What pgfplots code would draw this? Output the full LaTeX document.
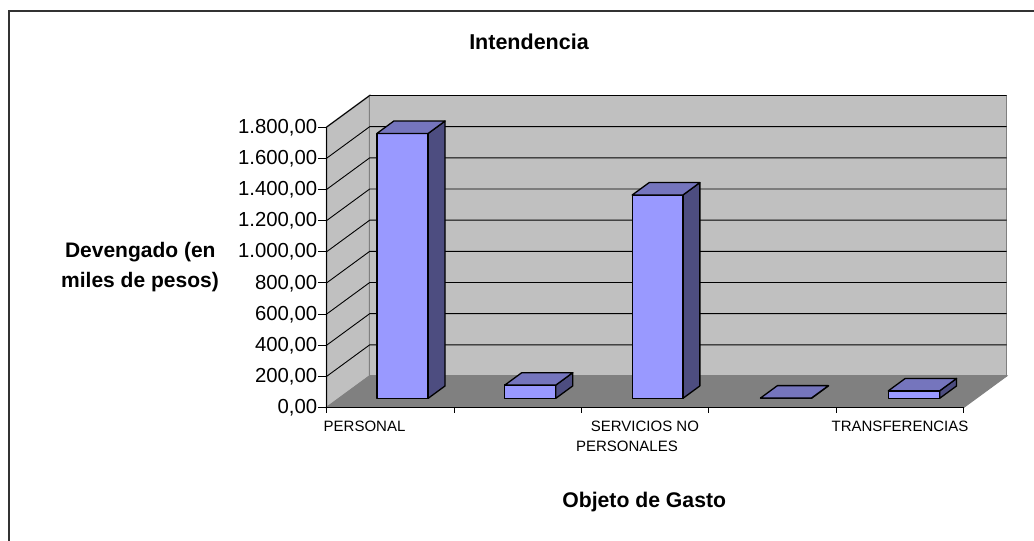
\documentclass[border=0pt]{standalone}
\usepackage{fontspec}
\setmainfont{Liberation Sans}
\usepackage{pgfplots}
\pgfplotsset{compat=1.18}
\definecolor{wall}{HTML}{C0C0C0}
\definecolor{floorc}{HTML}{808080}
\definecolor{barfront}{HTML}{9999FF}
\definecolor{bartop}{HTML}{7575BD}
\definecolor{barside}{HTML}{4D4D80}
\newcommand{\gridl}[1]{\addplot3[black,line width=0.9pt] coordinates {(0,0,#1) (0,1,#1) (5,1,#1)};}
\newcommand{\ztk}[1]{\addplot3[black,line width=0.9pt] coordinates {(-0.068,0,#1) (0,0,#1)};}
\newcommand{\xtk}[1]{\addplot3[black,line width=0.9pt] coordinates {(#1,0,-34) (#1,0,0)};}
% bar: left x, right x, value
\newcommand{\barx}[3]{%
 \addplot3[fill=barside,draw=black,line width=1.3pt,line join=round] coordinates {(#2,0.29,0) (#2,0.685,0) (#2,0.685,#3) (#2,0.29,#3)} --cycle;
 \addplot3[fill=barfront,draw=black,line width=1.3pt,line join=round] coordinates {(#1,0.29,0) (#2,0.29,0) (#2,0.29,#3) (#1,0.29,#3)} --cycle;
 \addplot3[fill=bartop,draw=black,line width=1.3pt,line join=round] coordinates {(#1,0.29,#3) (#2,0.29,#3) (#2,0.685,#3) (#1,0.685,#3)} --cycle;
}
\begin{document}
\begin{tikzpicture}[x=1pt,y=1pt]
\path[use as bounding box] (0,0) rectangle (1034,541);
\draw[line width=1.6pt,color=black!80] (9,0) -- (9,530) -- (1034,530);
\begin{axis}[
  at={(326.7pt,133.5pt)},anchor=origin,
  x={(127.4pt,0pt)},y={(43pt,31.5pt)},z={(0pt,0.15583pt)},
  xmin=0,xmax=5,ymin=0,ymax=1,zmin=0,zmax=1800,
  axis lines=left,
  axis line style={-,black,line width=0.9pt},
  y axis line style={draw=none},
  clip=false,axis on top,
  xtick=\empty,
  ytick=\empty,
  ztick={0,200,400,600,800,1000,1200,1400,1600,1800},
  major tick length=0pt,
  scaled z ticks=false,
  zticklabel style={font=\fontsize{20.3}{22}\selectfont,anchor=east,xshift=-6pt,yshift=-0.5pt,/pgf/number format/.cd,fixed,fixed zerofill,precision=2,use comma,1000 sep={.}},
  /pgf/number format/assume math mode=true,
]
\addplot3[fill=wall,draw=floorc,line width=1.5pt] coordinates {(0,0,0) (0,1,0) (0,1,1800) (0,0,1800)} --cycle;
\addplot3[fill=wall,draw=floorc,line width=1.5pt] coordinates {(0,1,0) (5,1,0) (5,1,1800) (0,1,1800)} --cycle;
\addplot3[fill=floorc,draw=floorc,line width=1pt] coordinates {(0,0,0) (5,0,0) (5,1,0) (0,1,0)} --cycle;
\gridl{200}\gridl{400}\gridl{600}\gridl{800}\gridl{1000}\gridl{1200}\gridl{1400}\gridl{1600}\gridl{1800}
\ztk{0}\ztk{200}\ztk{400}\ztk{600}\ztk{800}\ztk{1000}\ztk{1200}\ztk{1400}\ztk{1600}\ztk{1800}
\xtk{0}\xtk{1}\xtk{2}\xtk{3}\xtk{4}\xtk{5}
\barx{0.296}{0.698}{1700}
\barx{1.300}{1.700}{85}
\barx{2.300}{2.698}{1305}
\barx{3.307}{3.707}{2}
\barx{4.310}{4.713}{48}
\node[anchor=base,font=\fontsize{15}{16}\selectfont] at (axis cs:0.297,0,-151) {PERSONAL};
\node[anchor=base,font=\fontsize{15}{16}\selectfont] at (axis cs:2.498,0,-151) {SERVICIOS NO};
\node[anchor=base,font=\fontsize{15}{16}\selectfont] at (axis cs:2.357,0,-284) {PERSONALES};
\node[anchor=base,font=\fontsize{15}{16}\selectfont] at (axis cs:4.50,0,-151) {TRANSFERENCIAS};
\end{axis}
\node[font=\bfseries\fontsize{21.5}{23}\selectfont,anchor=base] at (529,491.7) {Intendencia};
\node[font=\bfseries\fontsize{21}{23}\selectfont,anchor=base] at (140.3,283.3) {Devengado (en};
\node[font=\bfseries\fontsize{21}{23}\selectfont,anchor=base] at (140,253.7) {miles de pesos)};
\node[font=\bfseries\fontsize{21.2}{23}\selectfont,anchor=base] at (644.2,33.3) {Objeto de Gasto};
\end{tikzpicture}
\end{document}
